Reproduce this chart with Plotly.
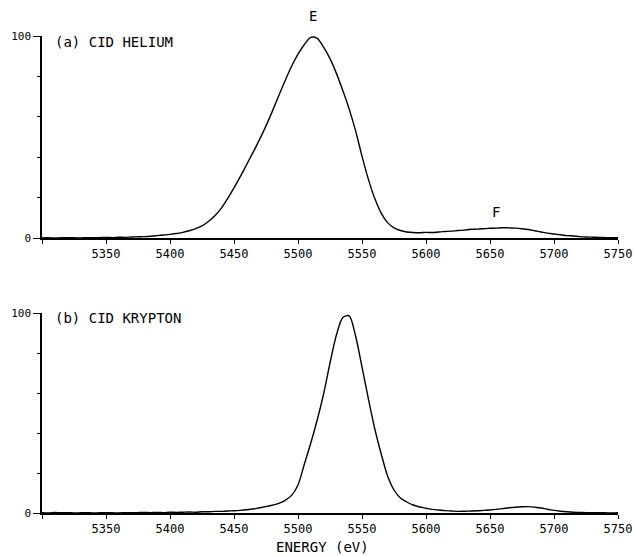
import plotly.graph_objects as go

energy = list(range(5300, 5755, 5))

helium = [0.0, 0.1, 0.0, 0.1, 0.2, 0.1, 0.0, 0.2, 0.1, 0.2,
          0.3, 0.2, 0.4, 0.3, 0.5, 0.6, 0.7, 0.9, 1.2, 1.5,
          1.8, 2.2, 2.8, 3.6, 4.6, 6.0, 8.2, 11.0, 14.7, 19.5,
          24.8, 30.5, 36.5, 42.5, 48.8, 55.5, 62.8, 70.5, 78.0, 85.0,
          91.0, 95.8, 99.3, 98.8, 94.5, 88.8, 81.5, 73.0, 63.8, 53.0,
          40.5, 29.0, 19.5, 12.3, 7.6, 5.0, 3.7, 3.0, 2.7, 2.6,
          2.8, 2.7, 3.0, 3.2, 3.4, 3.7, 3.9, 4.3, 4.4, 4.6,
          4.8, 4.9, 5.1, 5.0, 4.9, 4.6, 4.2, 3.6, 3.0, 2.4,
          2.0, 1.6, 1.2, 1.0, 0.7, 0.5, 0.4, 0.3, 0.2, 0.2, 0.1]

krypton = [0.2, 0.0, 0.3, 0.1, 0.2, 0.0, 0.1, 0.2, 0.0, 0.1,
           0.2, 0.1, 0.0, 0.2, 0.1, 0.2, 0.3, 0.2, 0.3, 0.2,
           0.4, 0.3, 0.4, 0.5, 0.4, 0.6, 0.6, 0.8, 0.8, 1.0,
           1.1, 1.3, 1.6, 2.0, 2.6, 3.2, 3.9, 4.8, 6.3, 8.8,
           14.0, 24.5, 35.0, 46.5, 59.5, 75.0, 89.0, 97.8, 98.6, 88.5,
           73.0, 57.0, 42.0, 29.5, 18.5, 11.5, 7.5, 5.5, 4.0, 3.0,
           2.4, 1.8, 1.5, 1.2, 1.0, 0.8, 0.9, 1.0, 1.1, 1.3,
           1.5, 1.8, 2.2, 2.6, 2.9, 3.1, 3.2, 2.9, 2.5, 1.9,
           1.3, 0.9, 0.6, 0.4, 0.3, 0.2, 0.1, 0.2, 0.1, 0.0, 0.1]

x_ticks = [5300, 5350, 5400, 5450, 5500, 5550, 5600, 5650, 5700, 5750]
x_ticktext = ["", "5350", "5400", "5450", "5500", "5550", "5600", "5650", "5700", "5750"]
y_ticks = [0, 100]
y_minor = [20, 40, 60, 80]

FONT = "DejaVu Sans Mono"
W, H = 635, 556
ml, mr, mt, mb = 42, 17, 36, 43
pw = W - ml - mr
ph = H - mt - mb

fig = go.Figure()
fig.add_trace(go.Scatter(x=energy, y=helium, mode="lines",
                         line=dict(color="black", width=1.4, shape="spline", smoothing=0.8),
                         xaxis="x", yaxis="y", showlegend=False))
fig.add_trace(go.Scatter(x=energy, y=krypton, mode="lines",
                         line=dict(color="black", width=1.4, shape="spline", smoothing=0.8),
                         xaxis="x2", yaxis="y2", showlegend=False))

xcommon = dict(range=[5300, 5750], tickvals=x_ticks, ticktext=x_ticktext,
               ticks="outside", ticklen=4, tickwidth=1, tickcolor="black",
               showline=True, linecolor="black", linewidth=1.5,
               showgrid=False, zeroline=False, ticklabeloverflow="allow",
               automargin=False,
               tickfont=dict(family=FONT, size=12, color="black"))
ycommon = dict(range=[0, 100], tickvals=y_ticks, ticktext=["0", "100"],
               ticks="outside", ticklen=7, tickwidth=1, tickcolor="black",
               showline=True, linecolor="black", linewidth=1.5,
               showgrid=False, zeroline=False, automargin=False,
               minor=dict(tickvals=y_minor, ticks="outside", ticklen=3,
                          tickcolor="black", showgrid=False),
               tickfont=dict(family=FONT, size=11, color="black"))

top_lo = (H - mb - 238) / ph
bot_hi = (H - mb - 313) / ph

fig.update_layout(
    width=W, height=H,
    margin=dict(l=ml, r=mr, t=mt, b=mb, autoexpand=False),
    paper_bgcolor="white", plot_bgcolor="white",
    xaxis=dict(domain=[0, 1], anchor="y", **xcommon),
    yaxis=dict(domain=[top_lo, 1], anchor="x", **ycommon),
    xaxis2=dict(domain=[0, 1], anchor="y2", **xcommon),
    yaxis2=dict(domain=[0, bot_hi], anchor="x2", **ycommon),
    font=dict(family=FONT, color="black"),
)


def px(x, y):
    return (x - ml) / pw, (H - mb - y) / ph


lab = dict(family=FONT, size=14, color="black")
for text, (xp, yp), anchor in [
    ("(a) CID HELIUM", (53, 42), "left"),
    ("E", (313, 16), "center"),
    ("F", (496, 212), "center"),
    ("(b) CID KRYPTON", (53, 318), "left"),
    ("ENERGY (eV)", (322, 547), "center"),
]:
    ax, ay = px(xp, yp)
    fig.add_annotation(x=ax, y=ay, xref="paper", yref="paper", text=text,
                       showarrow=False, xanchor=anchor, yanchor="middle", font=lab)

fig.write_html("out.html")
